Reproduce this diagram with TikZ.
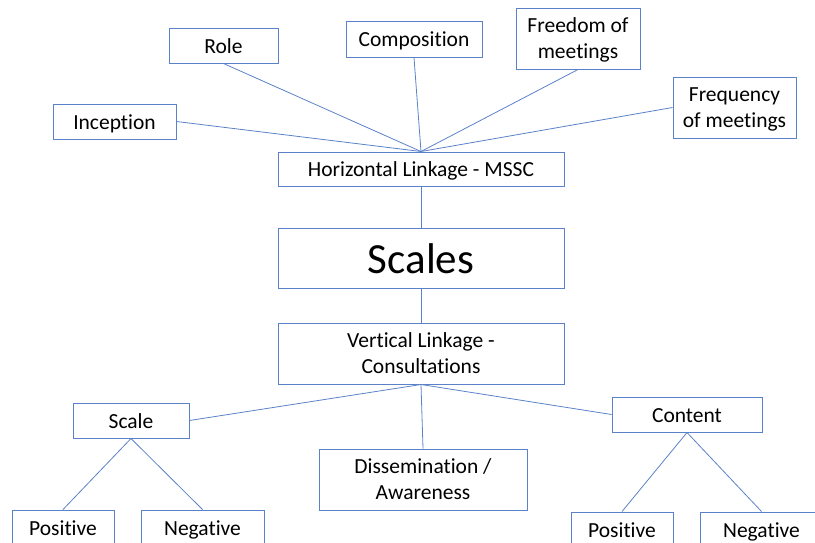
\documentclass[tikz,border=0pt]{standalone}
\usepackage{fontspec}
\setmainfont{Carlito}[Ligatures=NoCommon]
\definecolor{boxline}{RGB}{91,130,200}
% one-line and two-line labels, placed on the box centre by their baselines
\newcommand\oneln[2][7.5pt]{\raisebox{-#1}[0pt][0pt]{#2}}
\newcommand\twoln[2]{\raisebox{6pt}[0pt][0pt]{\begin{tabular}[t]{@{}c@{}}#1\\#2\end{tabular}}}
\begin{document}
\begin{tikzpicture}[x=1pt,y=-1pt,
  box/.style={draw=boxline, line width=1pt, fill=white,
    inner sep=0pt, font=\fontsize{21.5}{25.5}\selectfont},
  link/.style={draw=boxline, line width=0.8pt}]
\useasboundingbox (0,0) rectangle (815,542);
% top-level factors
\node[box, minimum width=109, minimum height=35] (role)  at (223.5,45.5) {\oneln{Role}};
\node[box, minimum width=136, minimum height=36] (comp)  at (414,39) {\oneln{Composition}};
\node[box, minimum width=124, minimum height=61] (free)  at (578,38.5) {\twoln{Freedom of}{meetings}};
\node[box, minimum width=123, minimum height=61] (freq)  at (734.5,107.5) {\twoln{Frequency}{of meetings}};
\node[box, minimum width=123, minimum height=35] (incep) at (114.5,121.5) {\oneln{Inception}};
% central column
\node[box, minimum width=286, minimum height=34] (horiz)  at (421,169) {\oneln[7pt]{Horizontal Linkage - MSSC}};
\node[box, minimum width=286, minimum height=60, font=\fontsize{43}{50}\selectfont] (scales) at (421,258) {\oneln[15pt]{Scales}};
\node[box, minimum width=286, minimum height=61] (vert)   at (421,353.5) {\twoln{Vertical Linkage -}{Consultations}};
% lower factors
\node[box, minimum width=116, minimum height=35] (scale)   at (131,420.5) {\oneln{Scale}};
\node[box, minimum width=208, minimum height=61] (diss)    at (423,479.5) {\twoln{Dissemination /}{Awareness}};
\node[box, minimum width=150, minimum height=35] (content) at (687,414.5) {\oneln{Content}};
\node[box, minimum width=102, minimum height=35] (pos1) at (63,527.5) {\oneln{Positive}};
\node[box, minimum width=123, minimum height=35] (neg1) at (202.5,527.5) {\oneln{Negative}};
\node[box, minimum width=102, minimum height=35] (pos2) at (622,529.5) {\oneln{Positive}};
\node[box, minimum width=123, minimum height=35] (neg2) at (761.5,529.5) {\oneln{Negative}};
% connectors
\draw[link] (horiz.north) -- (incep.east);
\draw[link] (horiz.north) -- (role.south);
\draw[link] (horiz.north) -- (comp.south);
\draw[link] (horiz.north) -- (free.south);
\draw[link] (horiz.north) -- (freq.west);
\draw[link] (horiz.south) -- (scales.north);
\draw[link] (scales.south) -- (vert.north);
\draw[link] (vert.south) -- (scale.east);
\draw[link] (vert.south) -- (diss.north);
\draw[link] (vert.south) -- (content.west);
\draw[link] (scale.south) -- (pos1.north);
\draw[link] (scale.south) -- (neg1.north);
\draw[link] (content.south) -- (pos2.north);
\draw[link] (content.south) -- (neg2.north);
\end{tikzpicture}
\end{document}
